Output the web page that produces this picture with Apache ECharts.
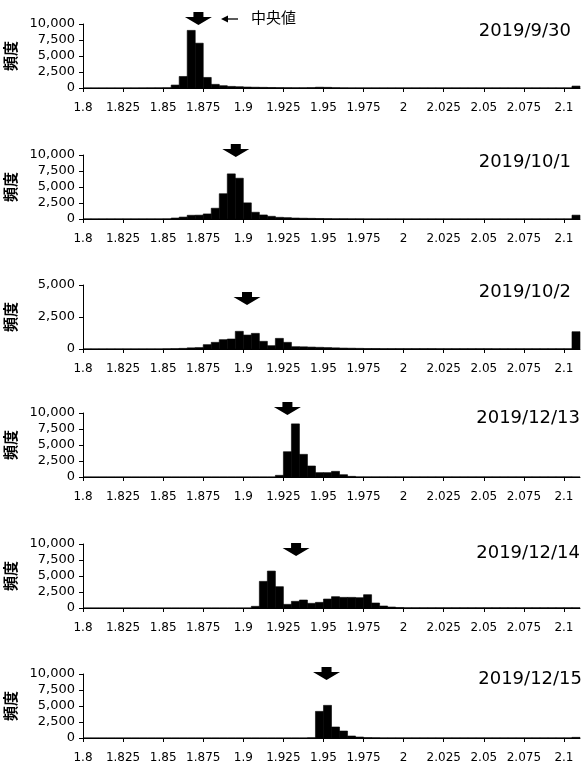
<!DOCTYPE html>
<html><head><meta charset="utf-8">
<script src="https://cdn.jsdelivr.net/npm/echarts@6/dist/echarts.min.js"></script>
<style>html,body{margin:0;padding:0;background:#fff}#c{width:588px;height:767px}</style>
</head><body><div id="c"></div>
<script>
// ---- data ----
const binStart = 1.8;
const binWidth = 0.005;
const xTicks = [1.8, 1.825, 1.85, 1.875, 1.9, 1.925, 1.95, 1.975, 2, 2.025, 2.05, 2.075, 2.1];
const dates = ['2019/9/30', '2019/10/1', '2019/10/2', '2019/12/13', '2019/12/14', '2019/12/15'];
const medians = [1.872, 1.8953, 1.9023, 1.9275, 1.9329, 1.9519];
const yMaxes = [10000, 10000, 5000, 10000, 10000, 10000];
const yInterval = 2500;

const counts0930 = [10,10,10,10,10,15,15,20,25,30, 40,460,1800,9000,7000,1650,570,360,250,200, 150,120,100,80,60,50,40,40,60,120, 100,50,30,20,20,20,20,20,20,20, 20,20,20,20,20,20,20,20,20,20, 20,20,20,20,20,20,20,20,20,20, 20,300];
const counts1001 = [20,20,20,20,20,20,20,20,20,20, 30,150,300,580,600,790,1680,3950,7050,6370, 2520,1050,630,420,260,210,150,120,100,80, 60,40,40,30,30,20,20,20,20,20, 20,20,20,20,20,20,20,20,20,20, 20,20,20,20,20,20,20,20,20,20, 20,600];
const counts1002 = [10,10,10,10,10,10,10,10,10,10, 20,30,50,90,110,340,520,730,780,1380, 1090,1220,600,260,830,520,180,170,150,130, 110,90,70,60,50,40,40,30,30,30, 30,30,30,30,25,25,25,25,25,25, 25,20,20,20,20,20,20,20,20,20, 20,1350];
const counts1213 = [5,5,5,5,5,5,5,5,5,5, 5,5,5,5,5,5,5,5,5,5, 5,5,5,5,260,3950,8300,3540,1720,680, 680,880,360,100,20,20,20,20,20,20, 20,20,20,20,20,20,20,20,20,20, 20,20,20,20,20,20,20,20,20,20, 20,10];
const counts1214 = [5,5,5,5,5,5,5,5,5,5, 5,5,5,5,5,5,5,5,5,5, 5,260,4160,5770,3330,570,1040,1250,730,880, 1400,1770,1660,1660,1610,2080,780,310,150,80, 40,40,40,40,40,40,40,40,40,40, 40,40,40,40,40,40,40,40,40,40, 40,40];
const counts1215 = [5,5,5,5,5,5,5,5,5,5, 5,5,5,5,5,5,5,5,5,5, 5,5,5,5,5,5,5,5,40,4160, 5100,1720,1090,310,150,60,40,20,20,20, 20,20,20,20,20,20,20,20,20,20, 20,20,20,20,20,20,20,20,20,20, 20,100];
const allCounts = [counts0930, counts1001, counts1002, counts1213, counts1214, counts1215];

// ---- layout ----
const gridTops = [24, 155, 285, 413, 544, 674];
const gridH = 64;
const arrowDrop = [1, 2, 20, 2, 12, 6];
const dateRight = [17, 17, 17, 8, 8, 6];
const dateCenter = [33, 164, 294, 420, 555, 681];

const fmt = v => Number(v).toLocaleString('en-US');
const arrowPath = 'path://M8.5,0 L18.5,0 L18.5,5 L27,5 L13.5,13 L0,5 L8.5,5 Z';

const grids = [], xAxes = [], yAxes = [], series = [], graphics = [];
allCounts.forEach((counts, i) => {
  grids.push({left: 83, right: 8, top: gridTops[i], height: gridH, outerBoundsMode: 'none', containLabel: false});
  xAxes.push({
    type: 'value', gridIndex: i, min: 1.8, max: 2.11,
    axisLine: {show: true, onZero: false, lineStyle: {color: '#000', width: 1}},
    axisTick: {show: true, customValues: xTicks, length: 4, lineStyle: {color: '#000'}},
    axisLabel: {customValues: xTicks, color: '#000', fontSize: 12, fontFamily: 'DejaVu Sans', margin: 14},
    splitLine: {show: false}
  });
  yAxes.push({
    type: 'value', gridIndex: i, min: 0, max: yMaxes[i], interval: yInterval,
    axisLine: {show: true, lineStyle: {color: '#000', width: 1}},
    axisTick: {show: true, length: 4, lineStyle: {color: '#000'}},
    axisLabel: {formatter: fmt, color: '#000', fontSize: 13, fontFamily: 'DejaVu Sans', margin: 8},
    splitLine: {show: false},
    name: '頻度', nameLocation: 'middle', nameRotate: 90, nameGap: 65, nameMoveOverlap: false,
    nameTextStyle: {fontSize: 15, fontWeight: 'bold', color: '#000', fontFamily: 'Noto Sans CJK JP'}
  });
  series.push({
    type: 'custom', xAxisIndex: i, yAxisIndex: i,
    data: counts.map((c, k) => [binStart + k * binWidth, binStart + (k + 1) * binWidth, c]),
    encode: {x: [0, 1], y: 2},
    renderItem: (params, api) => {
      const p0 = api.coord([api.value(0), api.value(2)]);
      const p1 = api.coord([api.value(1), 0]);
      return {type: 'rect', shape: {x: p0[0], y: p0[1], width: p1[0] - p0[0], height: p1[1] - p0[1]},
              style: {fill: '#000', stroke: '#000', lineWidth: 0.6}};
    },
    silent: true, z: 3
  });
  series.push({
    type: 'scatter', xAxisIndex: i, yAxisIndex: i, clip: false,
    data: [[medians[i], yMaxes[i]]],
    symbol: arrowPath, symbolSize: [27, 13], symbolOffset: [0, arrowDrop[i] - 6.5],
    itemStyle: {color: '#000', opacity: 1}, silent: true, z: 4
  });
  graphics.push({
    type: 'text', right: dateRight[i], top: dateCenter[i] - 11,
    style: {text: dates[i], font: '18px "DejaVu Sans"', fill: '#000'}
  });
});

graphics.push({type: 'line', shape: {x1: 224, y1: 19, x2: 238, y2: 19}, style: {stroke: '#000', lineWidth: 1.3}});
graphics.push({type: 'polygon', shape: {points: [[221, 19], [228, 15.5], [228, 22.5]]}, style: {fill: '#000'}});
graphics.push({type: 'text', left: 251, top: 10, style: {text: '中央値', font: '15px "Noto Sans CJK JP"', fill: '#000'}});

const chart = echarts.init(document.getElementById('c'), null, {renderer: 'canvas'});
chart.setOption({
  animation: false,
  backgroundColor: '#fff',
  grid: grids, xAxis: xAxes, yAxis: yAxes, series: series, graphic: graphics
});
</script></body></html>
